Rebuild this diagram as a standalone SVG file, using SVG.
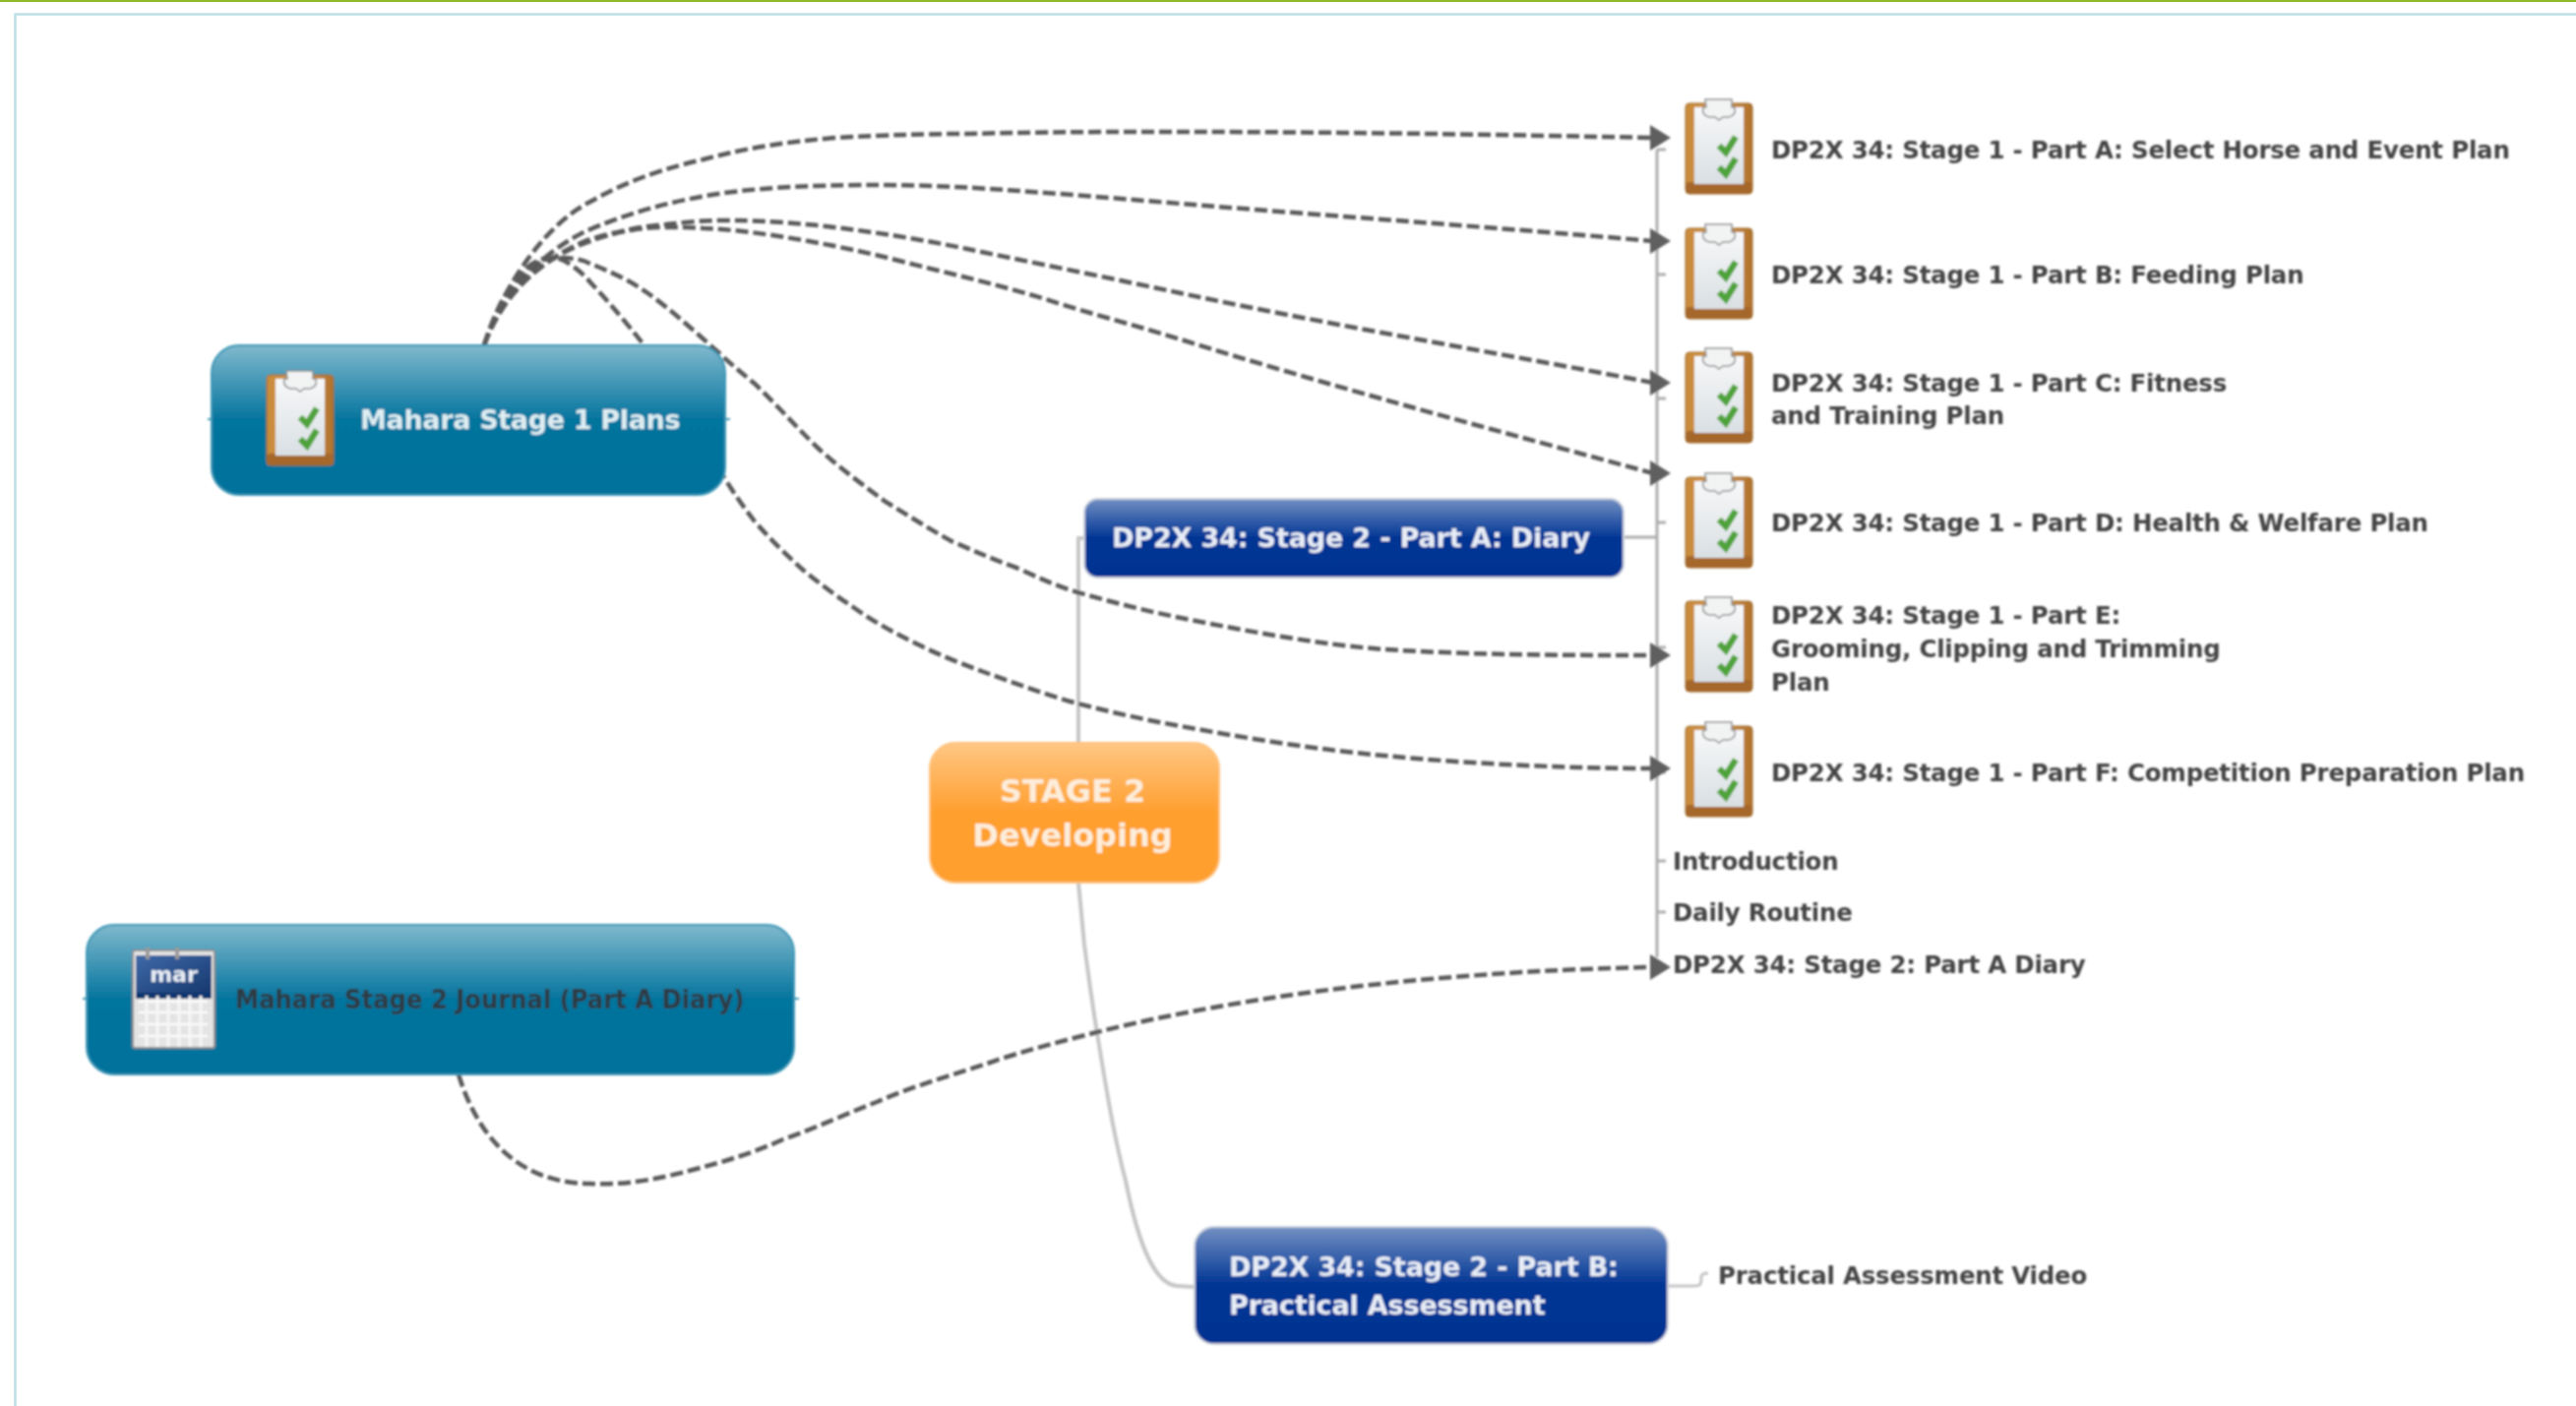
<svg xmlns="http://www.w3.org/2000/svg" width="2618" height="1429" viewBox="0 0 2618 1429">
<style>
text{font-family:"DejaVu Sans","Liberation Sans",sans-serif;font-weight:700}
.leaf{font-size:24.5px;letter-spacing:-.22px;fill:#454545}
.nl{font-size:27px;letter-spacing:-.33px;fill:#dfeef3}
.nb{font-size:27px;letter-spacing:-.15px;fill:#e8edf6}
.nd{font-size:27px;font-family:"DejaVu Sans Condensed","DejaVu Sans",sans-serif;font-stretch:condensed;fill:#2f3b42}
.ns{font-size:32px;fill:#fdeedb;text-anchor:middle}
.dash{fill:none;stroke:#5a5a5a;stroke-width:4.5;stroke-dasharray:13 5;marker-end:url(#arr)}
.tr{fill:none;stroke:#adadad;stroke-width:3}
.trl{fill:none;stroke:#c6c6c6;stroke-width:4}
.teal{fill:url(#gt);stroke:#3e97b6;stroke-width:2}
.blue{fill:url(#gb);stroke:#c9cfdc;stroke-width:2}
.org{fill:url(#go);stroke:#ffc27e;stroke-width:2}
</style>
<defs>
<filter id="soft" x="-2%" y="-2%" width="104%" height="104%"><feGaussianBlur stdDeviation="0.8"/></filter>
<linearGradient id="gt" x1="0" y1="0" x2="0" y2="1"><stop offset="0" stop-color="#80b9cd"/><stop offset="0.5" stop-color="#04749e"/><stop offset="1" stop-color="#02729b"/></linearGradient>
<linearGradient id="gb" x1="0" y1="0" x2="0" y2="1"><stop offset="0" stop-color="#7390c3"/><stop offset="0.5" stop-color="#003594"/><stop offset="1" stop-color="#003392"/></linearGradient>
<linearGradient id="go" x1="0" y1="0" x2="0" y2="1"><stop offset="0" stop-color="#ffc785"/><stop offset="0.5" stop-color="#ff9f2f"/><stop offset="1" stop-color="#ff9f2d"/></linearGradient>
<linearGradient id="wood" x1="0" y1="0" x2="1" y2="0"><stop offset="0" stop-color="#c98a3a"/><stop offset="0.5" stop-color="#d49a4e"/><stop offset="1" stop-color="#b0722c"/></linearGradient>
<linearGradient id="paper" x1="0" y1="0" x2="0" y2="1"><stop offset="0" stop-color="#f7f8f9"/><stop offset="1" stop-color="#d9dfe3"/></linearGradient>
<linearGradient id="cal" x1="0" y1="0" x2="1" y2="1"><stop offset="0" stop-color="#3f6aa8"/><stop offset="1" stop-color="#16386f"/></linearGradient>
<marker id="arr" markerUnits="userSpaceOnUse" markerWidth="24" markerHeight="30" refX="3" refY="14" orient="0"><polygon points="0,1 21,14 0,27" fill="#5f5f5f"/></marker>
<g id="clip">
<rect x="0" y="4" width="68" height="92" rx="4" fill="url(#wood)" stroke="#9a6a30" stroke-width="1"/>
<rect x="0" y="84" width="68" height="12" rx="4" fill="#a5682a"/>
<rect x="9" y="8" width="50" height="78" fill="url(#paper)"/>
<path d="M20 0h27v8h3q2 8-6 10h-6l-4 3-4-3h-6q-8-2-6-10h3z" fill="#f2f3f3" stroke="#8d8d8d" stroke-width="1.5"/>
<path d="M34 47l7 7 10-16M34 69l7 7 10-16" fill="none" stroke="#4fa33a" stroke-width="6.500"/>
</g>
</defs>
<rect width="2618" height="1429" fill="#fff"/>
<rect x="0" y="0" width="2618" height="2" fill="#8fb926"/>
<path d="M15.5 1429V14.5H2618" fill="none" stroke="#bde0e6" stroke-width="2.5"/>
<g filter="url(#soft)">
<g id="connectors">
<path class="tr" d="M1684 152V973M1684 152h9M1684 279h9M1684 405h9M1684 531h9M1684 658h9M1684 785h9M1684 875h9M1684 927h9"/>
<path class="trl" d="M1096 755V547h6"/>
<path class="tr" d="M1650 546h34"/>
<path class="trl" d="M1096 897C1098 920 1100 940 1102 960C1106 990 1110 1020 1115 1050C1124 1105 1132 1155 1144 1200C1156 1260 1172 1306 1197 1307L1214 1308"/>
<path class="trl" style="stroke-width:3" d="M1695 1307h28q6 0 6-6v-3q0-4 7-4"/>
<path class="dash" d="M492 351C515 280 560 225 600 205C640 182 680 170 715 162C760 150 800 144 849 140C900 137 950 136 983 136C1060 134 1130 134 1200 134C1360 134 1530 137 1680 140"/>
<path class="dash" d="M492 351C510 300 550 255 600 233C650 212 700 200 753 194C800 189 850 188 891 188C935 188 980 190 1021 193C1080 197 1140 202 1200 207C1360 220 1530 232 1680 245"/>
<path class="dash" d="M492 351C510 300 550 262 600 243C625 236 650 230 677 228C695 226 715 224 734 224C770 224 800 226 830 229C885 235 935 243 983 253C1055 268 1130 283 1200 298C1360 332 1530 360 1680 389"/>
<path class="dash" d="M492 351C510 300 550 262 600 245C625 236 650 231 677 231C690 231 703 231 715 232C740 233 765 236 791 240C830 246 870 254 906 263C960 277 1010 288 1059 303C1105 318 1155 331 1200 345C1360 395 1530 440 1680 481"/>
<path class="dash" d="M492 351C510 300 535 262 565 262C580 262 590 263 600 268C620 276 640 285 657 297C680 313 705 336 730 358C745 372 755 380 767 390C790 412 810 435 833 457C855 477 880 495 900 510C925 525 945 538 967 550C990 560 1010 569 1033 577C1055 587 1075 596 1095 602C1130 612 1165 621 1200 628C1270 642 1340 655 1407 660C1500 666 1600 666 1680 666"/>
<path class="dash" d="M492 351C510 293 537 258 565 262C575 264 590 275 600 287C620 308 638 330 654 350L737 487C747 503 757 517 767 530C783 548 800 565 817 580C833 593 850 606 867 617C888 632 910 644 933 655C955 666 978 675 1000 683C1030 694 1063 706 1095 715C1130 724 1165 732 1200 738C1270 751 1340 762 1407 768C1500 777 1600 781 1680 781"/>
<path class="dash" d="M466 1092C490 1170 540 1203 600 1203C635 1205 670 1198 700 1190C735 1181 765 1172 796 1158C830 1146 860 1132 891 1120C930 1103 970 1092 1006 1080C1040 1068 1080 1058 1115 1049C1175 1034 1240 1022 1300 1013C1420 995 1560 985 1680 983"/>
</g>
<g id="node-mahara-1">
<path d="M211 426h4M737 426h5" stroke="#3e97b6" stroke-width="2"/>
<rect class="teal" x="215" y="351" width="522" height="152" rx="28"/>
<use href="#clip" x="271" y="377"/>
<text class="nl" x="366" y="436">Mahara Stage 1 Plans</text>
</g>
<g id="node-mahara-2">
<path d="M84 1015h4M807 1015h5" stroke="#3e97b6" stroke-width="2"/>
<rect class="teal" x="88" y="940" width="719" height="152" rx="28"/>
<g id="calendar">
<rect x="135" y="966" width="83" height="99" rx="2" fill="#e4e4e4" stroke="#8e8e8e" stroke-width="2"/>
<rect x="138" y="971" width="77" height="38" fill="url(#cal)"/>
<rect x="138" y="1009" width="77" height="6" fill="#10356e"/>
<path d="M141 1018h70M141 1029h70M141 1041h70M141 1053h70" stroke="#fff" stroke-width="2"/>
<path d="M149 1012v52M160 1012v52M171 1012v52M182 1012v52M193 1012v52M204 1012v52" stroke="#f7f7f7" stroke-width="3"/>
<path d="M150 963v12M180 963v12" stroke="#999" stroke-width="4"/>
<text x="176.500" y="998" text-anchor="middle" style="font-size:22px;fill:#e9eff7">mar</text>
</g>
<text class="nd" x="239" y="1025">Mahara Stage 2 Journal (Part A Diary)</text>
</g>
<g id="node-stage2">
<rect class="org" x="945" y="755" width="294" height="142" rx="26"/>
<text class="ns" x="1090" y="815">STAGE 2</text>
<text class="ns" x="1090" y="860">Developing</text>
</g>
<g id="node-part-a"><rect class="blue" x="1102" y="507" width="548" height="80" rx="14"/><text class="nb" x="1130" y="556">DP2X 34: Stage 2 - Part A: Diary</text></g>
<g id="node-part-b"><rect class="blue" x="1214" y="1247" width="481" height="119" rx="20"/><text class="nb" x="1249" y="1297">DP2X 34: Stage 2 - Part B:</text><text class="nb" x="1249" y="1336">Practical Assessment</text></g>
<g id="leaf-a"><use href="#clip" x="1713" y="101"/><text class="leaf" x="1800" y="161">DP2X 34: Stage 1 - Part A: Select Horse and Event Plan</text></g>
<g id="leaf-b"><use href="#clip" x="1713" y="228"/><text class="leaf" x="1800" y="288">DP2X 34: Stage 1 - Part B: Feeding Plan</text></g>
<g id="leaf-c"><use href="#clip" x="1713" y="354"/><text class="leaf" x="1800" y="398">DP2X 34: Stage 1 - Part C: Fitness</text><text class="leaf" x="1800" y="431">and Training Plan</text></g>
<g id="leaf-d"><use href="#clip" x="1713" y="481"/><text class="leaf" x="1800" y="540">DP2X 34: Stage 1 - Part D: Health &amp; Welfare Plan</text></g>
<g id="leaf-e"><use href="#clip" x="1713" y="607"/><text class="leaf" x="1800" y="634">DP2X 34: Stage 1 - Part E:</text><text class="leaf" x="1800" y="668">Grooming, Clipping and Trimming</text><text class="leaf" x="1800" y="702">Plan</text></g>
<g id="leaf-f"><use href="#clip" x="1713" y="734"/><text class="leaf" x="1800" y="794">DP2X 34: Stage 1 - Part F: Competition Preparation Plan</text></g>
<g id="leaf-intro"><text class="leaf" x="1700" y="884">Introduction</text></g>
<g id="leaf-routine"><text class="leaf" x="1700" y="936">Daily Routine</text></g>
<g id="leaf-diary"><text class="leaf" x="1700" y="989">DP2X 34: Stage 2: Part A Diary</text></g>
<g id="leaf-video"><text class="leaf" x="1746" y="1305">Practical Assessment Video</text></g>
</g>
</svg>
